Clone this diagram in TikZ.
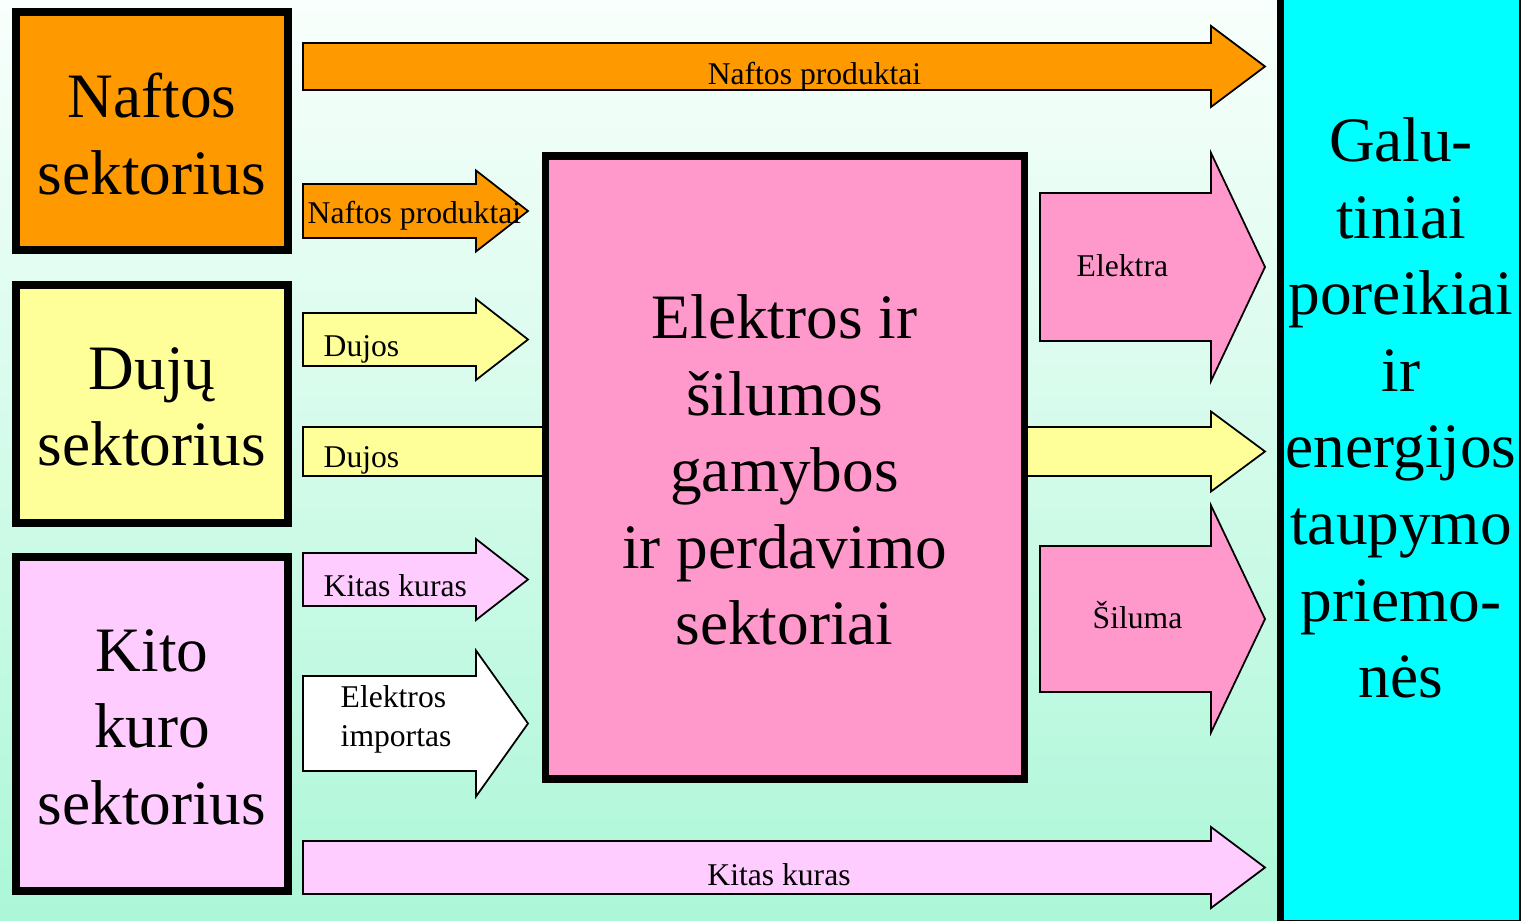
\documentclass[tikz,border=0pt]{standalone}
\usepackage{fontspec}
\setmainfont{Liberation Serif}
\usepackage{xcolor}

\definecolor{naftos}{RGB}{255,153,0}
\definecolor{dujos}{RGB}{255,255,153}
\definecolor{elektros}{RGB}{255,153,204}
\definecolor{kito}{RGB}{255,204,255}
\definecolor{galut}{RGB}{0,255,255}
\definecolor{bgtop}{RGB}{249,255,252}
\definecolor{bgbot}{RGB}{172,247,216}

% block arrow: fill, tail x, head x, tip x, centre y, shaft half, head half
\newcommand{\flowarrow}[7]{%
  \filldraw[flow,fill=#1] (#2,#5-#6) -- (#3,#5-#6) -- (#3,#5-#7) -- (#4,#5)
    -- (#3,#5+#7) -- (#3,#5+#6) -- (#2,#5+#6) -- cycle;}

\begin{document}
\begin{tikzpicture}[x=0.1mm,y=-0.1mm,
  sector/.style={draw,line width=2pt,rectangle,inner sep=0pt,align=center,font={\fontsize{18}{21.8}\selectfont}},
  flow/.style={draw=black,line width=0.5pt},
  lbl/.style={inner sep=0pt,font={\fontsize{9}{11}\selectfont}}]
  \useasboundingbox (0,0) rectangle (1521,921);
  \fill[top color=bgtop,bottom color=bgbot] (0,0) rectangle (1521,921);

  % gas flow passing under the central box
  \flowarrow{dujos}{303}{1211}{1265}{451.5}{24.5}{40}

  \node[sector,fill=naftos,minimum width=27.2mm,minimum height=23.8mm] (naftos) at (152,131) {};
  \node[sector,fill=dujos,minimum width=27.2mm,minimum height=23.8mm] (dujos) at (152,404) {};
  \node[sector,fill=kito,minimum width=27.2mm,minimum height=33.4mm] (kito) at (152,724) {};
  \node[sector,fill=elektros,minimum width=47.9mm,minimum height=62.3mm] (elektros) at (784.5,467.5) {};
  \node[sector,fill=galut,minimum width=24.15mm,minimum height=93.35mm] (galut) at (1401.25,456.75) {};

  \node[sector,draw=none] (naftostxt) at (152,134) {Naftos\\sektorius};
  \node[sector,draw=none] (dujostxt) at (152,407) {Dujų\\sektorius};
  \node[sector,draw=none] (kitotxt) at (152,727) {Kito\\kuro\\sektorius};
  \node[sector,draw=none] (elektrostxt) at (784.5,470) {Elektros ir\\šilumos\\gamybos\\ir perdavimo\\sektoriai};
  \node[sector,draw=none] (galuttxt) at (1401,408) {Galu-\\tiniai\\poreikiai\\ir\\energijos\\taupymo\\priemo-\\nės};

  \flowarrow{naftos}{303}{1211}{1265}{66.5}{23.5}{40.5}
  \flowarrow{naftos}{303}{476}{528}{211}{27}{40.5}
  \flowarrow{dujos}{303}{476}{528}{339.5}{26.5}{40.5}
  \flowarrow{kito}{303}{476}{528}{579.5}{26.5}{40.5}
  \flowarrow{white}{303}{476}{528}{723.5}{47.5}{73}
  \flowarrow{kito}{303}{1211}{1265}{867.5}{26.5}{40.5}
  \flowarrow{elektros}{1040}{1211}{1265}{267}{74}{114}
  \flowarrow{elektros}{1040}{1211}{1265}{619}{73}{113.5}

  \node[lbl,anchor=base] (np1) at (814.5,85) {Naftos produktai};
  \node[lbl,anchor=base west] (np2) at (307,224) {Naftos produktai};
  \node[lbl,anchor=base west] (dj1) at (323,357) {Dujos};
  \node[lbl,anchor=base west] (dj2) at (323,468) {Dujos};
  \node[lbl,anchor=base west] (kk1) at (323,597) {Kitas kuras};
  \node[lbl,anchor=base west,align=left] (imp) at (340,746) {Elektros\\importas};
  \node[lbl,anchor=base] (kk2) at (779,885) {Kitas kuras};
  \node[lbl,anchor=base west] (el) at (1076,277) {Elektra};
  \node[lbl,anchor=base west] (sil) at (1092,629) {Šiluma};
\end{tikzpicture}
\end{document}
